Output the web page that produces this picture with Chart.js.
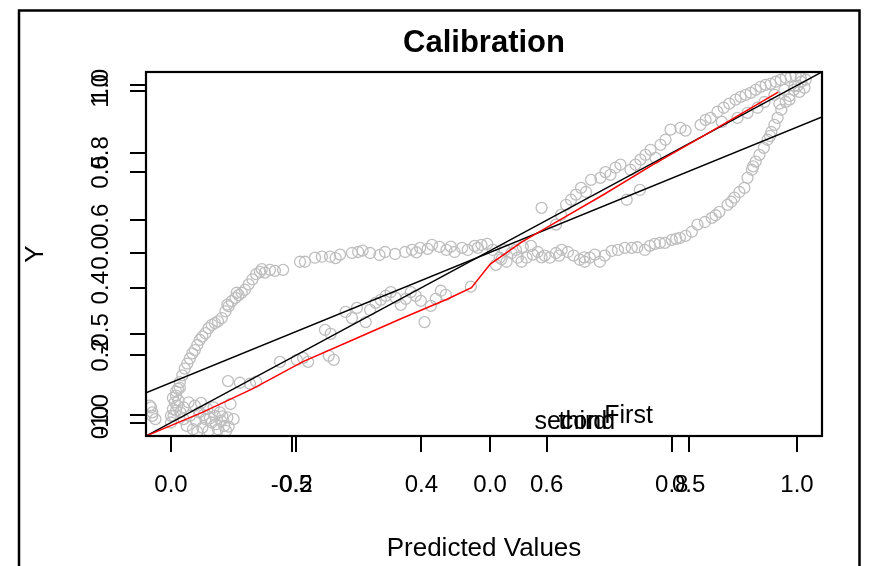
<!DOCTYPE html>
<html>
<head>
    <title>Calibration</title>
    <script src="https://cdn.jsdelivr.net/npm/chart.js"></script>
    <style>
        body { margin: 0; background: #fff; }
        #wrap { width: 879px; height: 566px; position: relative; }
    </style>
</head>
<body>
    <div id="wrap">
        <canvas id="calChart"></canvas>
    </div>
    <script>
        // model A: predictions close to the diagonal
        const predA = [-0.030, -0.032, 0.000, 0.004, 0.008, 0.010, 0.012, 0.003, 0.008, 0.014,
            0.015, 0.020, 0.025, 0.030, 0.035, 0.040, 0.045, 0.050, 0.055, 0.060,
            0.065, 0.070, 0.075, 0.080, 0.085, 0.090, 0.020, 0.028, 0.038, 0.048,
            0.058, 0.068, 0.078, 0.088, 0.095, 0.042, 0.052, 0.062, 0.072, 0.082,
            0.092, 0.100, 0.091, 0.110, 0.126, 0.136, 0.174, 0.201, 0.211, 0.219,
            0.246, 0.255, 0.252, 0.260, 0.279, 0.289, 0.297, 0.311, 0.318, 0.327,
            0.335, 0.343, 0.351, 0.359, 0.367, 0.375, 0.383, 0.391, 0.399, 0.405,
            0.415, 0.423, 0.431, 0.439, 0.479, 0.519, 0.528, 0.536, 0.551, 0.562,
            0.575, 0.592, 0.615, 0.623, 0.631, 0.639, 0.647, 0.655, 0.663, 0.671,
            0.686, 0.694, 0.702, 0.710, 0.718, 0.728, 0.749, 0.734, 0.742, 0.750,
            0.758, 0.766, 0.774, 0.782, 0.790, 0.798, 0.814, 0.822, 0.846, 0.854,
            0.862, 0.873, 0.883, 0.892, 0.902, 0.910, 0.918, 0.926, 0.934, 0.942,
            0.950, 0.958, 0.966, 0.974, 0.982, 0.990, 0.998, 1.006, 1.014, 0.880,
            0.905, 0.921, 0.937, 0.948, 0.964, 0.980, 0.996, 1.004, 1.012, 0.988,
            0.972];
        const obsA = [0.020, 0.045, 0.000, 0.020, 0.035, 0.050, 0.065, 0.073, 0.092, 0.103,
            0.030, 0.010, -0.010, 0.020, -0.020, 0.005, 0.030, -0.015, 0.010, -0.025,
            0.000, 0.020, -0.020, 0.005, -0.010, 0.015, 0.045, 0.060, 0.050, 0.058,
            0.040, 0.045, 0.030, -0.025, 0.055, -0.028, 0.022, 0.012, -0.005, 0.018,
            -0.012, 0.010, 0.123, 0.118, 0.115, 0.121, 0.180, 0.186, 0.192, 0.180,
            0.275, 0.263, 0.198, 0.186, 0.328, 0.310, 0.340, 0.298, 0.334, 0.355,
            0.364, 0.376, 0.387, 0.370, 0.349, 0.367, 0.387, 0.376, 0.361, 0.298,
            0.346, 0.367, 0.391, 0.379, 0.403, 0.468, 0.485, 0.477, 0.512, 0.521,
            0.524, 0.637, 0.587, 0.616, 0.646, 0.661, 0.676, 0.696, 0.684, 0.720,
            0.726, 0.743, 0.735, 0.756, 0.765, 0.661, 0.690, 0.750, 0.765, 0.780,
            0.794, 0.809, 0.785, 0.824, 0.839, 0.869, 0.874, 0.866, 0.883, 0.898,
            0.904, 0.922, 0.934, 0.946, 0.958, 0.966, 0.972, 0.978, 0.987, 0.996,
            1.002, 1.005, 1.011, 1.017, 1.023, 1.026, 1.029, 1.023, 1.017, 0.892,
            0.904, 0.919, 0.934, 0.951, 0.972, 0.987, 0.999, 0.981, 0.993, 0.958,
            0.946];

        // model B: S-shaped response
        const predB = [-0.034, -0.030, -0.025, 0.000, 0.003, 0.006, 0.008, 0.011, 0.014, 0.018,
            0.022, 0.026, 0.030, 0.034, 0.038, 0.042, 0.046, 0.050, 0.055, 0.060,
            0.065, 0.070, 0.075, 0.081, 0.087, 0.092, 0.097, 0.103, 0.108, 0.113,
            0.118, 0.124, 0.130, 0.136, 0.142, 0.150, 0.158, 0.166, 0.179, 0.206,
            0.214, 0.230, 0.241, 0.254, 0.270, 0.289, 0.299, 0.318, 0.342, 0.358,
            0.374, 0.385, 0.398, 0.410, 0.417, 0.429, 0.440, 0.453, 0.465, 0.474,
            0.485, 0.496, 0.505, 0.514, 0.525, 0.533, 0.544, 0.554, 0.560, 0.568,
            0.578, 0.586, 0.597, 0.605, 0.615, 0.624, 0.634, 0.643, 0.653, 0.661,
            0.669, 0.677, 0.685, 0.693, 0.704, 0.714, 0.725, 0.736, 0.757, 0.765,
            0.773, 0.781, 0.789, 0.800, 0.813, 0.822, 0.832, 0.841, 0.853, 0.864,
            0.876, 0.889, 0.900, 0.908, 0.916, 0.921, 0.928, 0.934, 0.940, 0.947,
            0.953, 0.959, 0.964, 0.969, 0.975, 0.982, 0.988, 0.995, 1.001, 1.007,
            0.263, 0.306, 0.333, 0.392, 0.447, 0.490, 0.592, 0.620, 0.660, 0.745,
            0.807, 0.870, 0.895, 0.930, 0.957, 0.090, 0.105, 0.145];
        const obsB = [0.050, 0.030, 0.010, 0.020, 0.040, 0.060, 0.080, 0.100, 0.120, 0.140,
            0.160, 0.175, 0.190, 0.205, 0.215, 0.230, 0.245, 0.255, 0.265, 0.280,
            0.290, 0.295, 0.300, 0.310, 0.330, 0.345, 0.360, 0.370, 0.378, 0.385,
            0.394, 0.410, 0.425, 0.440, 0.447, 0.445, 0.453, 0.450, 0.453, 0.477,
            0.477, 0.489, 0.492, 0.492, 0.498, 0.503, 0.506, 0.503, 0.506, 0.500,
            0.506, 0.512, 0.518, 0.515, 0.527, 0.521, 0.512, 0.506, 0.518, 0.512,
            0.524, 0.527, 0.530, 0.512, 0.489, 0.512, 0.503, 0.489, 0.477, 0.489,
            0.498, 0.506, 0.495, 0.489, 0.503, 0.512, 0.506, 0.495, 0.483, 0.477,
            0.489, 0.498, 0.477, 0.495, 0.509, 0.512, 0.518, 0.518, 0.512, 0.524,
            0.530, 0.533, 0.533, 0.542, 0.548, 0.554, 0.566, 0.587, 0.595, 0.607,
            0.625, 0.646, 0.667, 0.684, 0.696, 0.726, 0.750, 0.774, 0.794, 0.815,
            0.839, 0.862, 0.883, 0.904, 0.928, 0.951, 0.969, 0.987, 0.999, 1.011,
            0.488, 0.510, 0.497, 0.505, 0.522, 0.518, 0.490, 0.495, 0.490, 0.520,
            0.545, 0.615, 0.655, 0.760, 0.850, 0.350, 0.385, 0.455];

        // smoothed calibration curve
        const smoothX = [-0.04, 0.05, 0.13, 0.21, 0.29, 0.37, 0.44, 0.48, 0.51, 0.56, 0.62, 0.69, 0.77, 0.85, 0.91, 0.97];
        const smoothY = [-0.04, 0.03, 0.10, 0.18, 0.245, 0.31, 0.365, 0.40, 0.47, 0.535, 0.60, 0.675, 0.765, 0.85, 0.915, 0.98];

        // ideal line and fitted line, end to end across the plot
        const idealX = [-0.04, 1.04];
        const idealY = [-0.04, 1.04];
        const fitX = [-0.04, 1.04];
        const fitY = [0.088, 0.907];

        // tick values for the two overlaid coordinate systems
        const xTicks = [0, 0.2, 0.4, 0.6, 0.8, 1.0];
        const yTicks = [0, 0.2, 0.4, 0.6, 0.8, 1.0];
        const xTicks2 = [-0.5, 0, 0.5];
        const yTicks2 = [-1, -0.5, 0, 0.5, 1];

        // text annotations
        const noteText = ['second', 'third', 'First'];
        const noteX = [0.645, 0.658, 0.731];
        const noteY = [0.0, 0.0, 0.018];

        const pts = (xs, ys) => xs.map((x, i) => ({ x: x, y: ys[i] }));

        const sans = 'Liberation Sans, Arial, Helvetica, sans-serif';
        const tickFont = { family: sans, size: 24 };
        const labFont = { family: sans, size: 26 };

        // axis helper: R style ticks sticking out of the box
        function axis(pos, min, max, values, extra) {
            return Object.assign({
                type: 'linear',
                position: pos,
                min: min,
                max: max,
                afterBuildTicks: s => { s.ticks = values.map(v => ({ value: v })); },
                grid: { drawOnChartArea: false, drawTicks: true, tickLength: 16, color: '#000', lineWidth: 2 },
                border: { display: false },
                ticks: {
                    font: tickFont,
                    color: '#000',
                    autoSkip: false,
                    callback: v => v.toFixed(1)
                }
            }, extra);
        }

        const xA = axis('bottom', -0.04, 1.04, xTicks, {
            afterFit: s => { s.height = 130; },
            title: { display: true, text: 'Predicted Values', font: labFont, color: '#000', padding: { top: 0, bottom: 1.4 } }
        });
        xA.ticks.padding = 18.6;
        xA.ticks.minRotation = 0;
        xA.ticks.maxRotation = 0;

        const xB = axis('bottom', -0.8665, 0.836, xTicks2, {
            weight: -1,
            afterFit: s => { s.height = 0; }
        });
        xB.ticks.padding = 18.6;
        xB.ticks.minRotation = 0;
        xB.ticks.maxRotation = 0;

        const yA = axis('left', -0.04, 1.04, yTicks, {
            afterFit: s => { s.width = 146; },
            title: { display: true, text: 'Y', font: labFont, color: '#000', padding: { top: 20, bottom: 0 } }
        });
        yA.ticks.padding = 12;
        yA.ticks.minRotation = 90;
        yA.ticks.maxRotation = 90;
        yA.ticks.crossAlign = 'center';

        const yB = axis('left', -1.13, 1.117, yTicks2, {
            weight: -1,
            afterFit: s => { s.width = 0; }
        });
        yB.ticks.padding = 8;
        yB.ticks.minRotation = 90;
        yB.ticks.maxRotation = 90;
        yB.ticks.crossAlign = 'center';

        // the second axis pair takes no room of its own; after layout its box
        // is widened to match the first pair so its labels are not clipped away
        const overlayAxes = {
            id: 'overlayAxes',
            afterLayout(chart) {
                const s = chart.scales;
                s.x2.bottom = s.x.bottom;
                s.x2.height = s.x2.bottom - s.x2.top;
                s.y2.left = s.y.left;
                s.y2.width = s.y2.right - s.y2.left;
            }
        };

        // outer figure frame and the box round the plot region
        const frames = {
            id: 'frames',
            beforeDraw(chart) {
                const ctx = chart.ctx;
                ctx.save();
                ctx.strokeStyle = '#000';
                ctx.lineWidth = 2.5;
                ctx.strokeRect(19, 10.5, 840.5, 620);
                ctx.restore();
            },
            afterDraw(chart) {
                const a = chart.chartArea;
                const ctx = chart.ctx;
                ctx.save();
                ctx.strokeStyle = '#000';
                ctx.lineWidth = 2.2;
                ctx.strokeRect(a.left, a.top, a.right - a.left, a.bottom - a.top);
                ctx.restore();
            }
        };

        // free text placed in data coordinates
        const notes = {
            id: 'notes',
            afterDatasetsDraw(chart) {
                const ctx = chart.ctx;
                const sx = chart.scales.x;
                const sy = chart.scales.y;
                ctx.save();
                ctx.fillStyle = '#000';
                ctx.font = '25px ' + sans;
                ctx.textAlign = 'center';
                ctx.textBaseline = 'middle';
                noteText.forEach((t, i) => {
                    ctx.fillText(t, sx.getPixelForValue(noteX[i]), sy.getPixelForValue(noteY[i]));
                });
                ctx.restore();
            }
        };

        const ctx = document.getElementById('calChart').getContext('2d');
        const calChart = new Chart(ctx, {
            type: 'scatter',
            data: {
                datasets: [
                    {
                        label: 'smooth',
                        data: pts(smoothX, smoothY),
                        showLine: true,
                        borderColor: '#ff0000',
                        borderWidth: 1.5,
                        pointRadius: 0,
                        tension: 0,
                        fill: false,
                    },
                    {
                        label: 'ideal',
                        data: pts(idealX, idealY),
                        showLine: true,
                        borderColor: '#000',
                        borderWidth: 1.5,
                        pointRadius: 0,
                        fill: false,
                    },
                    {
                        label: 'fit',
                        data: pts(fitX, fitY),
                        showLine: true,
                        borderColor: '#000',
                        borderWidth: 1.5,
                        pointRadius: 0,
                        fill: false,
                    },
                    {
                        label: 'model A',
                        data: pts(predA, obsA),
                        pointRadius: 5.5,
                        pointBorderWidth: 1.3,
                        pointBorderColor: '#bebebe',
                        pointBackgroundColor: 'rgba(0,0,0,0)',
                    },
                    {
                        label: 'model B',
                        data: pts(predB, obsB),
                        pointRadius: 5.5,
                        pointBorderWidth: 1.3,
                        pointBorderColor: '#bebebe',
                        pointBackgroundColor: 'rgba(0,0,0,0)',
                    },
                ],
            },
            options: {
                responsive: true,
                maintainAspectRatio: false,
                animation: false,
                events: [],
                layout: { padding: { left: 0, right: 57, top: 0, bottom: 0 } },
                plugins: {
                    legend: { display: false },
                    tooltip: { enabled: false },
                    title: {
                        display: true,
                        text: 'Calibration',
                        fullSize: false,
                        color: '#000',
                        font: { family: sans, size: 31, weight: 'bold' },
                        padding: { top: 24.4, bottom: 10.4 },
                    },
                },
                scales: { x: xA, x2: xB, y: yA, y2: yB },
            },
            plugins: [overlayAxes, frames, notes],
        });
    </script>
</body>
</html>
